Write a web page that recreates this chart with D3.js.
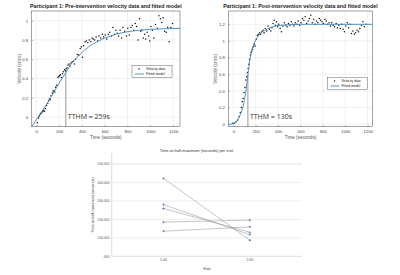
<!DOCTYPE html>
<html>
<head>
<meta charset="utf-8">
<script src="https://cdn.jsdelivr.net/npm/d3@7"></script>
<style>
  body { margin: 0; background: #fff; }
  svg { display: block; font-family: "Liberation Sans", Arial, sans-serif; }
  .grid line { stroke: #e3e3e3; stroke-width: 0.5; }
  .tick text { fill: #444; }
</style>
</head>
<body>
<div class="svg-container"></div>
<script>
// Pre-intervention scatter [time s, velocity cm/s]
const preScatter = [[10,-0.06],[20,-0.01],[28,0.01],[35,0.03],[42,0.04],[50,0.05],[58,0.06],[65,0.07],[72,0.06],[80,0.09],
  [90,0.12],[100,0.14],[108,0.17],[115,0.19],[122,0.18],[130,0.22],[140,0.25],[148,0.27],[155,0.27],[162,0.26],
  [170,0.31],[178,0.33],[190,0.41],[198,0.42],[205,0.43],[212,0.44],[220,0.41],[230,0.45],[238,0.47],[248,0.49],
  [256,0.48],[262,0.50],[270,0.51],[278,0.54],[288,0.55],[296,0.53],[305,0.56],[315,0.57],[325,0.58],[335,0.55],
  [345,0.60],[360,0.65],[372,0.64],[385,0.71],[395,0.73],[405,0.62],[415,0.74],[428,0.78],[440,0.79],[452,0.77],
  [465,0.80],[478,0.78],[490,0.82],[500,0.81],[512,0.80],[525,0.83],[538,0.79],[550,0.84],[565,0.82],[578,0.86],
  [590,0.83],[605,0.85],[618,0.81],[632,0.86],[645,0.88],[660,0.84],[672,0.93],[685,0.86],[698,0.90],[710,0.87],
  [722,0.84],[735,0.90],[748,0.82],[760,0.93],[775,0.89],[790,0.84],[802,0.92],[815,0.85],[830,0.93],[842,0.95],
  [855,0.90],[868,0.97],[880,0.94],[892,0.80],[905,1.02],[915,0.89],[925,0.90],[938,0.82],[950,0.86],[960,0.81],
  [972,0.88],[985,0.84],[995,0.79],[1005,0.94],[1018,0.90],[1030,0.82],[1045,0.96],[1060,0.92],[1075,1.05],[1088,1.02],
  [1100,0.98],[1112,1.03],[1125,0.89],[1140,0.88],[1152,0.93],[1165,0.78],[1180,0.93],[1195,0.97]];

// Pre-intervention fitted model
const preFit = [[-40,-0.10],[0,-0.03],[50,0.06],[100,0.15],[150,0.25],[200,0.35],[259,0.46],[300,0.54],[350,0.61],
  [400,0.67],[450,0.72],[500,0.76],[550,0.79],[600,0.82],[650,0.84],[700,0.86],[800,0.885],[900,0.90],[1000,0.91],
  [1100,0.915],[1260,0.92]];

// Post-intervention scatter
const postScatter = [[-5,0.01],[10,0.01],[25,0.03],[40,0.05],[52,0.09],[62,0.14],[72,0.20],[80,0.27],[88,0.31],[96,0.38],
  [104,0.44],[112,0.53],[120,0.57],[126,0.62],[132,0.67],[138,0.72],[145,0.78],[152,0.83],[158,0.86],[165,0.88],
  [172,0.90],[180,0.93],[188,0.96],[195,0.94],[205,1.02],[215,1.07],[225,1.08],[235,1.10],[245,1.08],[255,1.11],
  [265,1.13],[275,1.10],[285,1.15],[298,1.12],[310,1.18],[322,1.14],[335,1.12],[345,1.16],[355,1.21],[365,1.25],
  [375,1.19],[385,1.23],[395,1.17],[405,1.20],[418,1.15],[430,1.11],[442,1.18],[455,1.22],[468,1.19],[480,1.17],
  [492,1.21],[505,1.19],[518,1.23],[530,1.20],[542,1.18],[555,1.22],[568,1.20],[580,1.24],[592,1.19],[605,1.22],
  [618,1.27],[630,1.25],[642,1.29],[655,1.21],[668,1.24],[680,1.27],[692,1.31],[705,1.22],[718,1.26],[730,1.20],
  [742,1.24],[755,1.22],[768,1.27],[780,1.25],[792,1.23],[805,1.21],[818,1.26],[830,1.24],[842,1.20],[855,1.22],
  [868,1.18],[880,1.22],[892,1.19],[905,1.17],[918,1.21],[930,1.16],[942,1.19],[955,1.15],[968,1.20],[980,1.14],
  [992,1.11],[1005,1.18],[1018,1.22],[1030,1.16],[1042,1.20],[1055,1.09],[1068,1.12],[1080,1.08],[1092,1.10],[1105,1.13],
  [1118,1.11],[1130,1.15],[1145,1.19],[1158,1.23],[1170,1.17],[1185,1.20]];

const postFit = [[-45,0],[0,0.005],[30,0.04],[60,0.11],[90,0.23],[110,0.38],[130,0.59],[150,0.79],[170,0.91],[200,1.01],
  [230,1.07],[260,1.11],[300,1.14],[350,1.17],[400,1.185],[500,1.196],[600,1.2],[1245,1.2]];

// Time to half maximum per visit (5 participants)
const visits = [1, 2];
const visitLabels = ['1.00', '2.00'];
const tthmVisit1 = [422, 280, 259, 185, 136];
const tthmVisit2 = [87, 117, 130, 196, 159];
const tthmTicks = [0, 100, 200, 300, 400, 500];

const W = 400, H = 275;
const svg = d3.select('.svg-container').append('svg').attr('width', W).attr('height', H);

const blue = '#3b88c3';

function drawFit(o) {
    const x = d3.scaleLinear().domain(o.xDomain).range([o.left, o.right]);
    const y = d3.scaleLinear().domain(o.yDomain).range([o.bottom, o.top]);
    const g = svg.append('g');

    //grid
    g.append('g').attr('class', 'grid')
        .selectAll('line.v').data(o.xTicks).enter().append('line')
        .attr('x1', d => x(d)).attr('x2', d => x(d)).attr('y1', o.top).attr('y2', o.bottom);
    g.append('g').attr('class', 'grid')
        .selectAll('line.h').data(o.yTicks).enter().append('line')
        .attr('y1', d => y(d)).attr('y2', d => y(d)).attr('x1', o.left).attr('x2', o.right);

    //axes
    const xAxis = d3.axisBottom(x).tickValues(o.xTicks).tickSizeInner(-1.5).tickSizeOuter(0).tickPadding(3.5)
        .tickFormat(d3.format('d'));
    const yAxis = d3.axisLeft(y).tickValues(o.yTicks).tickSizeInner(-1.5).tickSizeOuter(0).tickPadding(3.5)
        .tickFormat(d3.format('~g'));
    const xg = g.append('g').attr('transform', `translate(0,${o.bottom})`).call(xAxis);
    const yg = g.append('g').attr('transform', `translate(${o.left},0)`).call(yAxis);
    [xg, yg].forEach(a => {
        a.selectAll('text').style('font-size', '4.2px').attr('fill', '#555');
        a.selectAll('line').attr('stroke', '#555').attr('stroke-width', 0.4);
        a.select('.domain').remove();
    });

    g.append('rect').attr('x', o.left).attr('y', o.top)
        .attr('width', o.right - o.left).attr('height', o.bottom - o.top)
        .attr('fill', 'none').attr('stroke', '#4a4a4a').attr('stroke-width', 0.5);

    //tthm marker
    g.append('line').attr('x1', x(o.tthm)).attr('x2', x(o.tthm))
        .attr('y1', o.bottom).attr('y2', y(o.tthmV))
        .attr('stroke', '#555').attr('stroke-width', 0.6);

    //scatter
    g.selectAll('circle.pt').data(o.scatter).enter().append('circle')
        .attr('cx', d => x(d[0])).attr('cy', d => y(d[1])).attr('r', 0.75).attr('fill', '#111');

    //fit
    const line = d3.line().x(d => x(d[0])).y(d => y(d[1])).curve(d3.curveMonotoneX);
    g.append('path').datum(o.fit).attr('d', line)
        .attr('fill', 'none').attr('stroke', blue).attr('stroke-width', 0.9);

    g.append('text').attr('x', x(o.tthm) + 2).attr('y', o.bottom - 8)
        .style('font-family', '"Open Sans", sans-serif').style('font-size', '7px').attr('fill', '#333')
        .text(`TTHM = ${o.tthm}s`);

    //title & labels
    g.append('text').attr('x', (o.left + o.right) / 2).attr('y', 7.5).attr('text-anchor', 'middle')
        .style('font-size', '5.3px').style('font-weight', 'bold').attr('fill', '#222').text(o.title);
    g.append('text').attr('x', (o.left + o.right) / 2).attr('y', 139).attr('text-anchor', 'middle')
        .style('font-size', '4.6px').attr('fill', '#555').text('Time (seconds)');
    g.append('text').attr('transform', `translate(${o.left - 11},${(o.top + o.bottom) / 2}) rotate(-90)`)
        .attr('text-anchor', 'middle').style('font-size', '4.6px').attr('fill', '#555').text('Velocity (cm/s)');

    //legend
    const lg = g.append('g').attr('transform', `translate(${o.legend[0]},${o.legend[1]})`);
    lg.append('rect').attr('width', 40).attr('height', 11.6).attr('fill', '#fff')
        .attr('stroke', '#444').attr('stroke-width', 0.4);
    lg.append('circle').attr('cx', 7).attr('cy', 3.2).attr('r', 0.75).attr('fill', '#111');
    lg.append('line').attr('x1', 3).attr('x2', 12).attr('y1', 8.3).attr('y2', 8.3)
        .attr('stroke', blue).attr('stroke-width', 0.9);
    lg.append('text').attr('x', 14).attr('y', 4.4).style('font-size', '3.4px').attr('fill', '#222').text('Velocity data');
    lg.append('text').attr('x', 14).attr('y', 9.5).style('font-size', '3.4px').attr('fill', '#222').text('Fitted model');
}

drawFit({
    left: 31.7, right: 180, top: 11, bottom: 126.7,
    xDomain: [-40, 1260], yDomain: [-0.1, 1.1],
    xTicks: [0, 200, 400, 600, 800, 1000, 1200], yTicks: [0, 0.2, 0.4, 0.6, 0.8, 1],
    scatter: preScatter, fit: preFit, tthm: 259, tthmV: 0.49,
    title: 'Participant 1: Pre-intervention velocity data and fitted model',
    legend: [132, 65.7]
});

drawFit({
    left: 228.3, right: 372.7, top: 11, bottom: 126.7,
    xDomain: [-45, 1245], yDomain: [-0.03, 1.36],
    xTicks: [0, 200, 400, 600, 800, 1000, 1200], yTicks: [0, 0.2, 0.4, 0.6, 0.8, 1, 1.2],
    scatter: postScatter, fit: postFit, tthm: 130, tthmV: 0.59,
    title: 'Participant 1: Post-intervention velocity data and fitted model',
    legend: [327.5, 77.7]
});

///////////////////////////////////////////////////////////////
// TTHM per visit
const bx = d3.scaleLinear().domain([0.4, 2.6]).range([111.7, 301.7]);
const by = d3.scaleLinear().domain([0, 500]).range([256.3, 164]);
const bg = svg.append('g');

bg.selectAll('line.gr').data(tthmTicks.slice(1)).enter().append('line')
    .attr('x1', 111.7).attr('x2', 301.7).attr('y1', d => by(d)).attr('y2', d => by(d))
    .attr('stroke', d => d === 500 ? '#ececec' : '#dcdcdc').attr('stroke-width', d => d === 500 ? 1.4 : 0.5);
bg.append('line').attr('x1', 111.7).attr('x2', 301.7).attr('y1', by(0)).attr('y2', by(0))
    .attr('stroke', '#bbb').attr('stroke-width', 0.5);
bg.append('line').attr('x1', 111.7).attr('x2', 111.7).attr('y1', 153).attr('y2', by(0))
    .attr('stroke', '#bbb').attr('stroke-width', 0.5);

bg.selectAll('text.yl').data(tthmTicks).enter().append('text')
    .attr('x', 109.5).attr('y', d => by(d) + 1.2).attr('text-anchor', 'end')
    .style('font-size', '3.3px').attr('fill', '#555').text(d => d3.format('.3f')(d).replace(/^0/, ''));
bg.selectAll('text.xl').data(visits).enter().append('text')
    .attr('x', d => bx(d)).attr('y', 261).attr('text-anchor', 'middle')
    .style('font-size', '3.6px').attr('fill', '#555').text((d, i) => visitLabels[i]);

const pairs = tthmVisit1.map((v, i) => [v, tthmVisit2[i]]);
bg.selectAll('line.p').data(pairs).enter().append('line')
    .attr('x1', bx(1)).attr('x2', bx(2)).attr('y1', d => by(d[0])).attr('y2', d => by(d[1]))
    .attr('stroke', '#8a8a8a').attr('stroke-width', 0.5);

const marks = [];
pairs.forEach(p => { marks.push([1, p[0]]); marks.push([2, p[1]]); });
bg.selectAll('path.m').data(marks).enter().append('path')
    .attr('d', d3.symbol(d3.symbolCross, 3))
    .attr('transform', d => `translate(${bx(d[0])},${by(d[1])})`)
    .attr('fill', '#4d86b8');

bg.append('text').attr('x', 196.5).attr('y', 151.5).attr('text-anchor', 'middle')
    .style('font-size', '4px').attr('fill', '#333').text('Time-to-half-maximum (seconds) per visit');
bg.append('text').attr('x', 206.7).attr('y', 269.5).attr('text-anchor', 'middle')
    .style('font-size', '4px').attr('fill', '#333').text('Visit');
bg.append('text').attr('transform', 'translate(93.5,205) rotate(-90)').attr('text-anchor', 'middle')
    .style('font-size', '3.8px').attr('fill', '#333').text('Time-to-half-maximum (seconds)');
</script>
</body>
</html>
